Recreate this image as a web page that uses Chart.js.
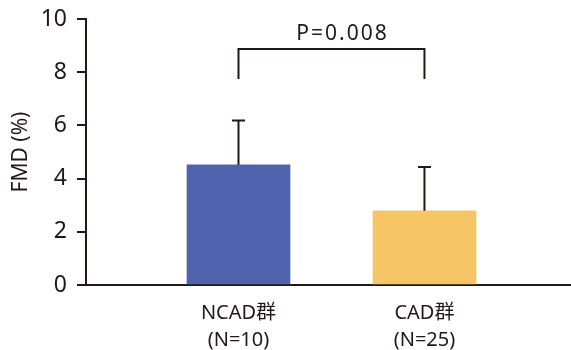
<!doctype html>
<html lang="ja">
<head>
<meta charset="utf-8">
<title>FMD</title>
<script src="https://cdn.jsdelivr.net/npm/chart.js@4/dist/chart.umd.min.js"></script>
<style>
  html, body { margin: 0; padding: 0; background: #fff; }
  #wrap { width: 571px; height: 350px; }
</style>
</head>
<body>
<div id="wrap"><canvas id="myChart"></canvas></div>
<script>
    // data
    var categories = ['NCAD群', 'CAD群'];
    var groupN = ['(N=10)', '(N=25)'];
    var means = [4.52, 2.79];
    var sds = [1.66, 1.65];
    var barColors = ['#4f62ad', '#f6c566'];
    var yTicks = [0, 2, 4, 6, 8, 10];
    var pText = 'P=0.008';
    var bracketTop = 8.87;
    var bracketLeg = 7.74;

    var ink = '#231815';
    var fontFam = "'Noto Sans', 'Noto Sans CJK JP', sans-serif";

    var points = means.map(function (v, i) {
        return { x: i + 1, y: v };
    });

    var errorBars = {
        id: 'errorBars',
        afterDatasetsDraw: function (chart) {
            var ctx = chart.ctx;
            var xs = chart.scales.x, ys = chart.scales.y;
            ctx.save();
            ctx.strokeStyle = ink;
            ctx.lineWidth = 2;
            for (var i = 0; i < means.length; i++) {
                var x = xs.getPixelForValue(i + 1);
                var y0 = ys.getPixelForValue(means[i]);
                var y1 = ys.getPixelForValue(means[i] + sds[i]);
                ctx.beginPath();
                ctx.moveTo(x, y0);
                ctx.lineTo(x, y1);
                ctx.moveTo(x - 6.5, y1);
                ctx.lineTo(x + 6.5, y1);
                ctx.stroke();
            }
            // significance bracket
            var xa = xs.getPixelForValue(1), xb = xs.getPixelForValue(2);
            var yt = ys.getPixelForValue(bracketTop), yl = ys.getPixelForValue(bracketLeg);
            ctx.beginPath();
            ctx.moveTo(xa, yl);
            ctx.lineTo(xa, yt);
            ctx.lineTo(xb, yt);
            ctx.lineTo(xb, yl);
            ctx.stroke();
            ctx.fillStyle = ink;
            ctx.font = '21px ' + fontFam;
            ctx.textAlign = 'center';
            ctx.textBaseline = 'bottom';
            if ('letterSpacing' in ctx) ctx.letterSpacing = '2px';
            ctx.fillText(pText, (xa + xb) / 2 + 11, yt - 5);
            ctx.restore();
        }
    };

    var ctx = document.getElementById('myChart').getContext('2d');
    var myChart = new Chart(ctx, {
        type: 'bar',
        data: {
            datasets: [{
                data: points,
                backgroundColor: barColors,
                borderWidth: 0,
                barThickness: 103
            }]
        },
        options: {
            responsive: true,
            maintainAspectRatio: false,
            animation: false,
            layout: { padding: { top: 19, right: 0, bottom: 0, left: 0 } },
            plugins: {
                legend: { display: false },
                tooltip: { enabled: false }
            },
            scales: {
                x: {
                    type: 'linear',
                    offset: false,
                    min: 0.18,
                    max: 2.788,
                    afterBuildTicks: function (scale) {
                        scale.ticks = categories.map(function (c, i) { return { value: i + 1 }; });
                    },
                    afterFit: function (scale) {
                        scale.height = 65;
                        scale.paddingLeft = 0;
                        scale.paddingRight = 0;
                    },
                    grid: { display: false },
                    border: { display: true, color: ink, width: 2 },
                    ticks: {
                        autoSkip: false,
                        maxRotation: 0,
                        padding: 7,
                        color: ink,
                        font: { family: fontFam, size: 20, lineHeight: 1.35 },
                        callback: function (v) {
                            var i = Math.round(v) - 1;
                            return [categories[i], groupN[i]];
                        }
                    }
                },
                y: {
                    min: 0,
                    max: 10,
                    afterBuildTicks: function (scale) {
                        scale.ticks = yTicks.map(function (v) { return { value: v }; });
                    },
                    afterFit: function (scale) {
                        scale.width = 86;
                        scale.paddingTop = 0;
                        scale.paddingBottom = 0;
                    },
                    grid: {
                        drawOnChartArea: false,
                        drawTicks: true,
                        tickLength: 9,
                        color: ink,
                        lineWidth: 2
                    },
                    border: { display: true, color: ink, width: 2 },
                    ticks: {
                        padding: 10,
                        color: ink,
                        font: { family: fontFam, size: 23 }
                    },
                    title: {
                        display: true,
                        text: 'FMD (%)',
                        color: ink,
                        font: { family: fontFam, size: 21 },
                        padding: { top: 8, bottom: 0 }
                    }
                }
            }
        },
        plugins: [errorBars]
    });
</script>
</body>
</html>
